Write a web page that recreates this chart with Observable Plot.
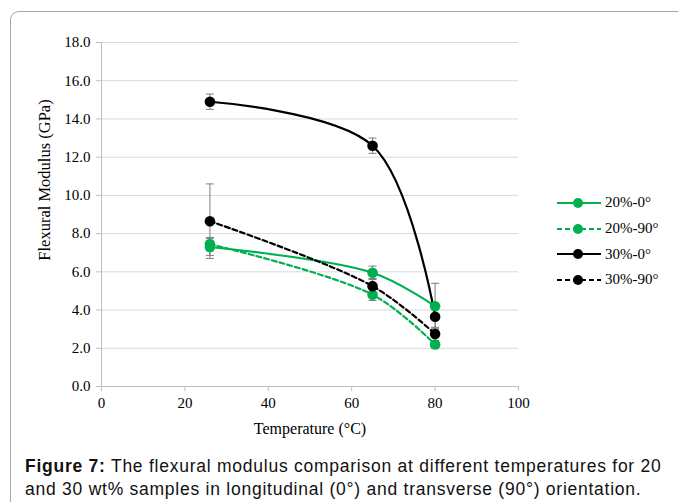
<!DOCTYPE html>
<html>
<head>
<meta charset="utf-8">
<script src="https://cdn.jsdelivr.net/npm/d3@7"></script>
<script src="https://cdn.jsdelivr.net/npm/@observablehq/plot@0.6"></script>
<style>
  html, body { margin: 0; padding: 0; background: #fff; }
  #wrap { position: relative; width: 678px; height: 502px; overflow: hidden; }
  #frame { position: absolute; left: 10px; top: 11px; width: 720px; height: 560px;
           border-top: 1.5px solid #a6a6a6; border-left: 1.5px solid #a6a6a6; border-top-left-radius: 9px; }
  #chart { position: absolute; left: 0; top: 0; }
  #ylabel { position: absolute; left: 45px; top: 180px; transform: translate(-50%, -50%) rotate(-90deg);
            font-family: "Liberation Serif", serif; font-size: 16.5px; white-space: nowrap; color: #000; }
  #legend { position: absolute; left: 556px; top: 190px; font-family: "Liberation Serif", serif; font-size: 15px; }
  .lg { display: flex; align-items: center; height: 25.7px; }
  .lg svg { margin-right: 3px; }
  #caption { position: absolute; left: 25px; top: 455px; width: 660px; font-family: "Liberation Sans", Arial, sans-serif;
             font-size: 17.5px; letter-spacing: 0.75px; line-height: 23px; color: #111; white-space: nowrap; }
  g[aria-label="x-axis label"] text { font-size: 16px; }
</style>
</head>
<body>
<div id="wrap">
  <div id="frame"></div>
  <div id="chart"></div>
  <div id="ylabel">Flexural Modulus (GPa)</div>
  <div id="legend"></div>
  <div id="caption"><b>Figure 7:</b> The flexural modulus comparison at different temperatures for 20<br>and 30 wt% samples in longitudinal (0°) and transverse (90°) orientation.</div>
</div>
<script>
// ---- data ----
const temperatures = [26, 65, 80];
const seriesNames = ["20%-0°", "20%-90°", "30%-0°", "30%-90°"];
const mod20_0  = [7.3, 5.95, 4.2];
const err20_0  = [0.45, 0.35, 1.2];
const mod20_90 = [7.45, 4.8, 2.2];
const err20_90 = [0.35, 0.3, 0.2];
const mod30_0  = [14.9, 12.6, 3.65];
const err30_0  = [0.4, 0.4, 0.6];
const mod30_90 = [8.65, 5.25, 2.75];
const err30_90 = [1.95, 0.4, 0.35];
const yTicks = [0, 2, 4, 6, 8, 10, 12, 14, 16, 18];
const xTicks = [0, 20, 40, 60, 80, 100];

const styles = {
  "20%-0°":  {color: "#00b050", dash: null},
  "20%-90°": {color: "#00b050", dash: "5,3"},
  "30%-0°":  {color: "#000000", dash: null},
  "30%-90°": {color: "#000000", dash: "5,3"}
};
const valueArrays = [mod20_0, mod20_90, mod30_0, mod30_90];
const errArrays = [err20_0, err20_90, err30_0, err30_90];
const rows = [];
seriesNames.forEach((s, i) => temperatures.forEach((t, j) =>
  rows.push({series: s, t, v: valueArrays[i][j], e: errArrays[i][j]})));

const capSymbol = { draw(ctx, size) { const w = 4; ctx.moveTo(-w, 0); ctx.lineTo(w, 0); } };

const marks = [
  Plot.gridY(yTicks, {stroke: "#d9d9d9", strokeOpacity: 1}),
  Plot.ruleX([0], {stroke: "#bfbfbf"}),
  Plot.ruleY([0], {stroke: "#bfbfbf"}),
  Plot.axisY(yTicks, {tickFormat: d3.format(".1f"), tickSize: 5, tickPadding: 6, stroke: "#bfbfbf", label: null}),
  Plot.axisX(xTicks, {tickSize: 5, tickPadding: 6, stroke: "#bfbfbf", label: "Temperature (°C)", labelAnchor: "center", labelArrow: "none", labelOffset: 47}),
  // error bars
  Plot.ruleX(rows, {x: "t", y1: d => d.v - d.e, y2: d => d.v + d.e, stroke: "#7f7f7f", strokeWidth: 1}),
  Plot.dot(rows, {x: "t", y: d => d.v + d.e, symbol: capSymbol, stroke: "#7f7f7f", strokeWidth: 1, r: 4}),
  Plot.dot(rows, {x: "t", y: d => d.v - d.e, symbol: capSymbol, stroke: "#7f7f7f", strokeWidth: 1, r: 4})
];
seriesNames.forEach(s => {
  const d = rows.filter(r => r.series === s);
  marks.push(Plot.line(d, {x: "t", y: "v", stroke: styles[s].color, strokeWidth: 2.2, strokeDasharray: styles[s].dash, curve: "catmull-rom"}));
});
seriesNames.forEach(s => {
  const d = rows.filter(r => r.series === s);
  marks.push(Plot.dot(d, {x: "t", y: "v", fill: styles[s].color, r: 5.3, stroke: "none"}));
});

const chart = Plot.plot({
  width: 678, height: 440,
  marginLeft: 101, marginRight: 160, marginTop: 42, marginBottom: 54,
  x: {domain: [0, 100]},
  y: {domain: [0, 18]},
  style: {fontFamily: "'Liberation Serif', serif", fontSize: "15px", background: "transparent", color: "#000", overflow: "visible"},
  marks
});
document.getElementById("chart").appendChild(chart);

// legend
const lg = document.getElementById("legend");
seriesNames.forEach(s => {
  const row = document.createElement("div"); row.className = "lg";
  const st = styles[s];
  row.innerHTML = `<svg width="46" height="12"><line x1="1" x2="45" y1="6" y2="6" stroke="${st.color}" stroke-width="2.2" ${st.dash ? `stroke-dasharray="${st.dash}"` : ""}/><circle cx="22" cy="6" r="5" fill="${st.color}"/></svg><span>${s}</span>`;
  lg.appendChild(row);
});
</script>
</body>
</html>
